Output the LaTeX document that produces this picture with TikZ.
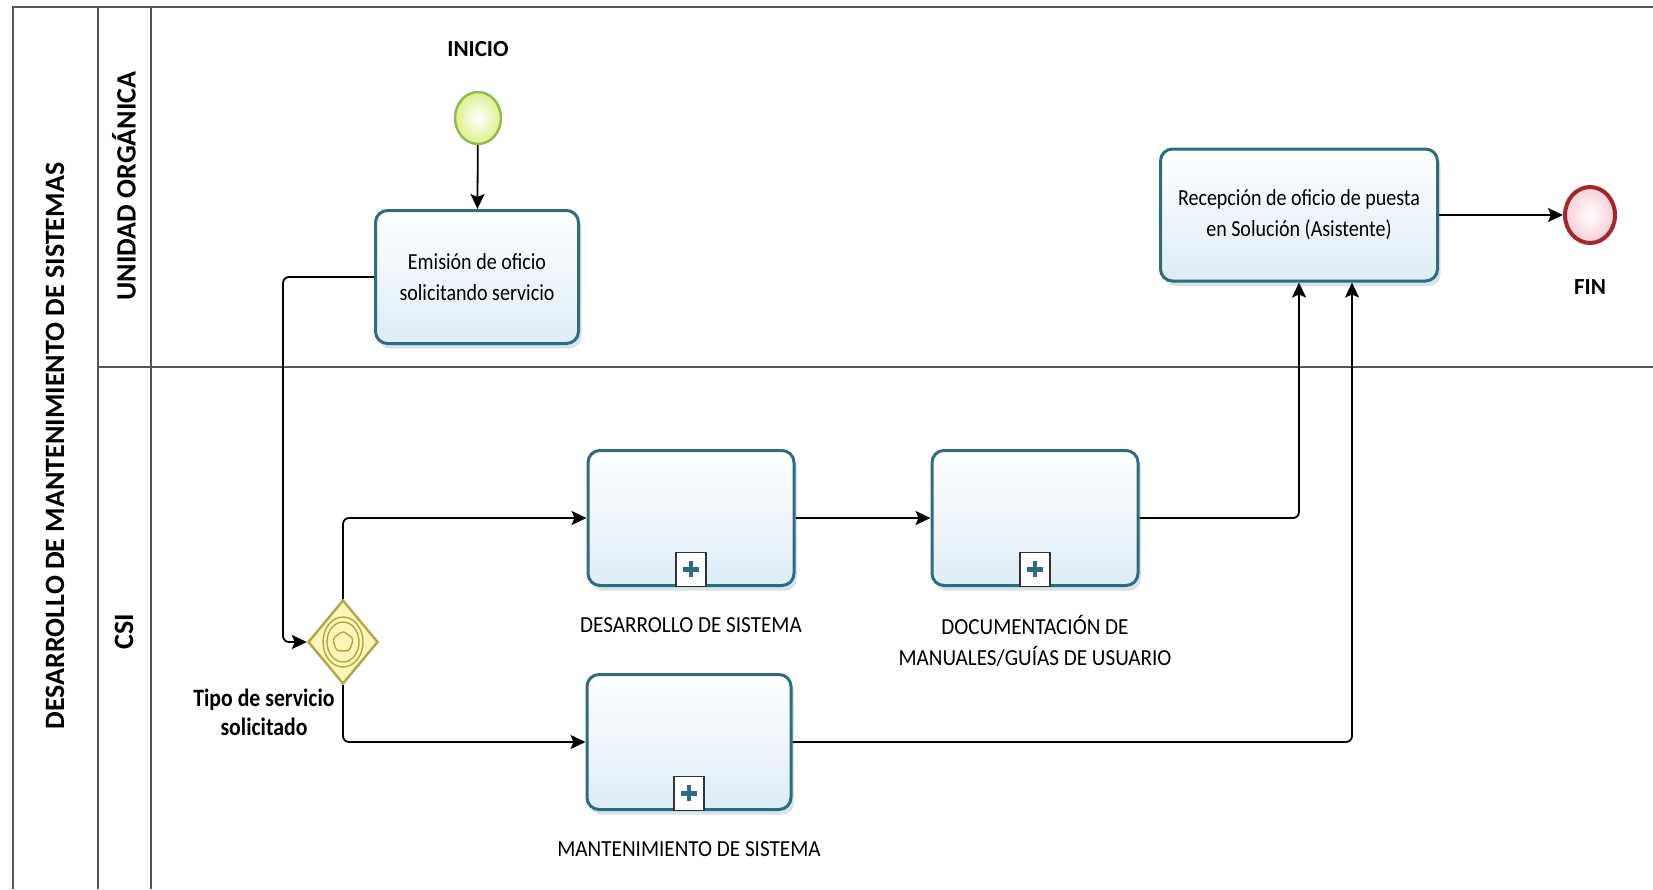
\documentclass[tikz,border=0pt]{standalone}
\usepackage{fontspec}
\setmainfont{Carlito}
\newfontfamily\narrowfont[FakeStretch=0.87]{Carlito}
\newfontfamily\capsfont[FakeStretch=0.92]{Carlito}
\usepackage{tikz}
\usetikzlibrary{arrows.meta, positioning, shapes.geometric, shadows}

\definecolor{taskedge}{RGB}{46,108,130}
\definecolor{taskfill}{RGB}{221,236,246}
\definecolor{startedge}{RGB}{148,184,74}
\definecolor{startfill}{RGB}{220,240,140}
\definecolor{endedge}{RGB}{166,38,47}
\definecolor{endfill}{RGB}{246,206,212}
\definecolor{gwedge}{RGB}{176,168,70}
\definecolor{gwfill}{RGB}{249,246,184}
\definecolor{poolline}{RGB}{85,85,85}

\begin{document}
\begin{tikzpicture}[
    x=0.5pt, y=-0.5pt,
    font=\narrowfont\fontsize{11.5}{15.5}\selectfont,
    task/.style={
        draw=taskedge,
        line width=1.5pt,
        rounded corners=6pt,
        top color=white,
        bottom color=taskfill,
        minimum width=101.5pt,
        minimum height=66.5pt,
        inner sep=2pt,
        align=center,
        drop shadow={shadow xshift=1.5pt, shadow yshift=-2.5pt, opacity=0.18, fill=taskedge}
    },
    subtask/.style={
        task,
        minimum width=103pt,
        minimum height=67.5pt
    },
    marker/.style={
        draw=black!80,
        line width=0.6pt,
        fill=white,
        minimum width=15pt,
        minimum height=17pt,
        inner sep=0pt,
        anchor=south,
        path picture={
            \draw[taskedge, line width=2.4pt]
                ([xshift=-4pt]path picture bounding box.center) -- ([xshift=4pt]path picture bounding box.center)
                ([yshift=-4pt]path picture bounding box.center) -- ([yshift=4pt]path picture bounding box.center);
        }
    },
    startev/.style={
        ellipse,
        draw=startedge,
        line width=1.2pt,
        inner color=white,
        outer color=startfill,
        minimum width=23pt,
        minimum height=26pt,
        inner sep=0pt
    },
    endev/.style={
        ellipse,
        draw=endedge,
        line width=2pt,
        inner color=white,
        outer color=endfill,
        minimum width=25pt,
        minimum height=28pt,
        inner sep=0pt
    },
    gateway/.style={
        diamond,
        draw=gwedge,
        line width=1.2pt,
        fill=gwfill,
        minimum width=35pt,
        minimum height=42pt,
        inner sep=0pt,
        path picture={
            \draw[gwedge, line width=0.7pt]
                (path picture bounding box.center) ellipse [x radius=10pt, y radius=12.5pt]
                (path picture bounding box.center) ellipse [x radius=8pt, y radius=10pt];
            \draw[gwedge, line width=0.7pt, rounded corners=1.5pt]
                ([shift={(90:5.5pt)}]path picture bounding box.center)
                -- ([shift={(162:5.5pt)}]path picture bounding box.center)
                -- ([shift={(234:5.5pt)}]path picture bounding box.center)
                -- ([shift={(306:5.5pt)}]path picture bounding box.center)
                -- ([shift={(18:5.5pt)}]path picture bounding box.center)
                -- cycle;
        }
    },
    caption/.style={inner sep=0pt, align=center, font=\capsfont\fontsize{11.5}{15.5}\selectfont},
    gwcaption/.style={inner sep=0pt, align=center, font=\narrowfont\bfseries\fontsize{12.5}{14.5}\selectfont},
    evcaption/.style={inner sep=0pt, font=\normalfont\bfseries\fontsize{11.5}{13}\selectfont},
    pooltitle/.style={rotate=90, inner sep=0pt, font=\normalfont\bfseries\fontsize{14}{16}\selectfont},
    lane/.style={draw=poolline, line width=0.8pt},
    flow/.style={-{Stealth[length=7.5pt, width=7pt, inset=1.5pt]}, line width=0.9pt, rounded corners=3pt}
]

\fill[white] (0,0) rectangle (1653,889);
\useasboundingbox (0,0) rectangle (1653,889);

% Pool and lanes
\draw[lane] (13,889) -- (13,7) -- (1653,7);
\draw[lane] (98,7) -- (98,889);
\draw[lane] (151,7) -- (151,889);
\draw[lane] (98,367) -- (1653,367);

\node[pooltitle] (pool) at (55,446) {DESARROLLO DE MANTENIMIENTO DE SISTEMAS};
\node[pooltitle] (laneuo) at (124,186) {UNIDAD ORGÁNICA};
\node[pooltitle] (lanecsi) at (124,632) {CSI};

% Unidad organica
\node[startev] (inicio) at (478,118) {};
\node[evcaption, above=17pt of inicio] (inicioLbl) {INICIO};

\node[task] (emision) at (477,277) {Emisión de oficio\\solicitando servicio};

\node[task, minimum width=138.5pt, minimum height=66pt] (recep) at (1299,215)
    {Recepción de oficio de puesta\\en Solución (Asistente)};

\node[endev] (fin) at (1590,215) {};
\node[evcaption, below=17pt of fin] (finLbl) {FIN};

% CSI
\node[gateway] (tipo) at (343,642) {};
\node[gwcaption] (tipoLbl) at (264,712) {Tipo de servicio\\solicitado};

\node[subtask] (desa) at (691,518) {};
\node[marker] (desaMk) at (desa.south) {};
\node[caption, below=15pt of desa] (desaLbl) {DESARROLLO DE SISTEMA};

\node[subtask, right=67.5pt of desa] (docu) {};
\node[marker] (docuMk) at (docu.south) {};
\node[caption, below=14pt of docu] (docuLbl) {DOCUMENTACIÓN DE\\MANUALES/GUÍAS DE USUARIO};

\node[subtask, minimum width=102pt] (mant) at (689,742) {};
\node[marker] (mantMk) at (mant.south) {};
\node[caption, below=15pt of mant] (mantLbl) {MANTENIMIENTO DE SISTEMA};

% Flujos
\draw[flow] (inicio) -- (emision);
\draw[flow] (emision.west) -- ++(-91,0) |- (tipo.west);
\draw[flow] (tipo.north) |- (desa.west);
\draw[flow] (tipo.south) |- (mant.west);
\draw[flow] (desa) -- (docu);
\draw[flow] (docu.east) -| (recep.south);
\draw[flow] (mant.east) -| ([xshift=26.5pt]recep.south);
\draw[flow] (recep) -- (fin);

\end{tikzpicture}
\end{document}
